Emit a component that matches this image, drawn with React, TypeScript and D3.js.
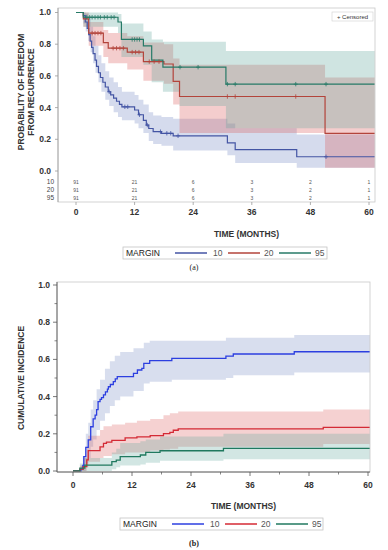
import * as d3 from 'd3'

// ---- panel (a): Kaplan-Meier freedom from recurrence ----
const groups = ['10', '20', '95']
const kmEnd = 61.2
const km10: [number, number][] = [
  [0, 1], [1.5, 0.98], [1.9, 0.94], [2.3, 0.9], [2.6, 0.86], [2.9, 0.82], [3.2, 0.78],
  [3.5, 0.74], [3.9, 0.7], [4.2, 0.66], [4.6, 0.62], [5.0, 0.59], [5.5, 0.56], [6.0, 0.53],
  [6.6, 0.5], [7.1, 0.48], [7.7, 0.46], [8.3, 0.44], [8.9, 0.42], [9.4, 0.405], [12.0, 0.385],
  [12.8, 0.355], [13.8, 0.32], [14.4, 0.29], [14.9, 0.268], [15.8, 0.248], [17.5, 0.238],
  [19.9, 0.222], [31.0, 0.178], [32.6, 0.135], [45.2, 0.09]
]
const km20: [number, number][] = [
  [0, 1], [1.5, 0.96], [2.6, 0.87], [5.6, 0.81], [6.6, 0.775], [10.5, 0.75], [13.8, 0.69],
  [18, 0.675], [19.9, 0.565], [21.2, 0.47], [51, 0.238]
]
const km95: [number, number][] = [
  [0, 1], [1.5, 0.97], [8.6, 0.94], [9.3, 0.83], [13.8, 0.79], [15.5, 0.7], [17.8, 0.655],
  [30.7, 0.548]
]
const kmBand10: [number, number, number][] = [
  [0, 1, 1], [1.5, 0.93, 1], [2.0, 0.88, 0.99], [2.5, 0.82, 0.96], [3.0, 0.75, 0.91],
  [3.5, 0.68, 0.85], [4.0, 0.62, 0.79], [4.6, 0.56, 0.73], [5.2, 0.5, 0.68], [6.0, 0.45, 0.63],
  [6.8, 0.41, 0.59], [7.7, 0.37, 0.56], [8.6, 0.34, 0.53], [9.4, 0.32, 0.5], [12.0, 0.3, 0.48],
  [12.8, 0.27, 0.45], [13.8, 0.24, 0.42], [14.9, 0.19, 0.37], [15.8, 0.17, 0.35],
  [17.5, 0.16, 0.34], [19.9, 0.13, 0.33], [31.0, 0.1, 0.3], [32.6, 0.05, 0.27], [45.2, 0.02, 0.23]
]
const kmBand20: [number, number, number][] = [
  [0, 1, 1], [1.5, 0.91, 1], [2.6, 0.79, 0.94], [5.6, 0.72, 0.89], [6.6, 0.68, 0.87],
  [10.5, 0.64, 0.85], [13.8, 0.57, 0.81], [18, 0.55, 0.8], [19.9, 0.42, 0.71], [21.2, 0.24, 0.67],
  [51, 0.02, 0.59]
]
const kmBand95: [number, number, number][] = [
  [0, 1, 1], [1.5, 0.91, 1], [8.6, 0.87, 0.99], [9.3, 0.72, 0.93], [13.8, 0.67, 0.88],
  [15.5, 0.56, 0.83], [17.8, 0.5, 0.816], [21.2, 0.41, 0.816], [30.7, 0.27, 0.757]
]
const cens10 = [6.8, 10.0, 10.6, 13.0, 14.6, 17.3, 18.6, 19.4, 20.9, 51.2]
const cens20 = [3.3, 3.9, 4.5, 5.1, 7.6, 8.3, 9.0, 9.7, 11.5, 12.2, 12.9, 15.0, 16.0, 17.0, 31, 32.6, 45]
const cens95 = [2.2, 2.8, 3.3, 3.9, 4.5, 5.0, 5.8, 6.4, 7.2, 7.8, 11.5, 12.0, 12.5, 13.0, 21.3, 25, 31, 32.6, 45, 51.2]
const riskTimes = [0, 12, 24, 36, 48, 60]
const atRisk10 = [91, 21, 6, 3, 2, 1]
const atRisk20 = [91, 21, 6, 3, 2, 1]
const atRisk95 = [91, 21, 6, 3, 2, 1]

// ---- panel (b): cumulative incidence ----
const ciEnd = 60.4
const ci10: [number, number][] = [
  [0, 0], [1.6, 0.01], [2.0, 0.03], [2.2, 0.077], [2.6, 0.127], [3.1, 0.167], [3.6, 0.238],
  [4.1, 0.28], [4.5, 0.3], [4.8, 0.33], [5.1, 0.373], [5.5, 0.385], [5.8, 0.395], [6.2, 0.409],
  [6.6, 0.425], [7.0, 0.44], [7.2, 0.453], [7.6, 0.465], [8.2, 0.48], [8.6, 0.495], [9.0, 0.507],
  [12.3, 0.525], [13.1, 0.543], [14.0, 0.552], [14.4, 0.579], [15.6, 0.593], [20.1, 0.605],
  [31.1, 0.618], [32.6, 0.629], [45.0, 0.641]
]
const ci20: [number, number][] = [
  [0, 0], [1.4, 0.01], [2.1, 0.023], [2.8, 0.06], [3.1, 0.11], [5.5, 0.13], [6.2, 0.149],
  [6.8, 0.155], [7.9, 0.165], [10.6, 0.178], [13.0, 0.183], [15.7, 0.19], [18.4, 0.201],
  [19.7, 0.208], [20.4, 0.219], [21.4, 0.227], [50.9, 0.235]
]
const ci95: [number, number][] = [
  [0, 0], [1.4, 0.015], [2.4, 0.032], [7.9, 0.05], [8.8, 0.059], [9.6, 0.077], [13.7, 0.086],
  [14.8, 0.1], [17.7, 0.109], [30.6, 0.122]
]
const ciBand10: [number, number, number][] = [
  [0, 0, 0], [1.6, 0, 0.03], [2.0, 0, 0.08], [2.6, 0.04, 0.2], [3.1, 0.07, 0.26], [3.6, 0.13, 0.33],
  [4.1, 0.17, 0.38], [4.8, 0.22, 0.44], [5.5, 0.27, 0.49], [6.5, 0.31, 0.55], [7.5, 0.35, 0.59],
  [8.5, 0.38, 0.62], [9.6, 0.4, 0.64], [12.3, 0.43, 0.66], [14.4, 0.47, 0.69], [15.6, 0.48, 0.7],
  [20.1, 0.49, 0.7], [31.1, 0.5, 0.716], [32.6, 0.515, 0.716], [45.0, 0.53, 0.731]
]
const ciBand20: [number, number, number][] = [
  [0, 0, 0], [1.4, 0, 0.03], [2.1, 0, 0.07], [2.8, 0.02, 0.13], [3.1, 0.05, 0.19], [5.5, 0.07, 0.22],
  [6.2, 0.08, 0.24], [7.9, 0.09, 0.25], [10.6, 0.1, 0.26], [13.0, 0.1, 0.27], [15.7, 0.11, 0.28],
  [18.4, 0.115, 0.3], [19.7, 0.12, 0.31], [21.4, 0.13, 0.32], [50.9, 0.145, 0.33]
]
const ciBand95: [number, number, number][] = [
  [0, 0, 0], [1.4, 0, 0.04], [2.4, 0, 0.07], [7.9, 0.01, 0.1], [8.8, 0.02, 0.12], [9.6, 0.03, 0.15],
  [13.7, 0.035, 0.16], [14.8, 0.045, 0.17], [17.7, 0.055, 0.185], [30.6, 0.063, 0.2]
]

const xTicks = [0, 12, 24, 36, 48, 60]
const yTicks = [0, 0.2, 0.4, 0.6, 0.8, 1.0]

const kmLine = ['#4455a4', '#b3443b', '#277a67']
const ciLine = ['#2c3fe0', '#d42a35', '#20795f']
const bandFill = ['#7488c2', '#dc5a58', '#5fa59b']

const FONT = '"Liberation Sans", Arial, sans-serif'

function extend<T extends number[]>(d: T[], end: number): T[] {
  const last = d[d.length - 1].slice() as T
  last[0] = end
  return [...d, last]
}

function stepAt(d: [number, number][], t: number) {
  let v = d[0][1]
  for (const p of d) if (p[0] <= t) v = p[1]
  return v
}

function Legend({ x, y, w, colors }: { x: number; y: number; w: number; colors: string[] }) {
  const h = 12
  const items = [
    { lx: 52, tx: 90 },
    { lx: 105, tx: 141 },
    { lx: 156, tx: 192 }
  ]
  return (
    <g transform={`translate(${x},${y})`}>
      <rect x={0} y={0} width={w} height={h} fill="#fff" stroke="#c4c4c4" strokeWidth={0.8} />
      <text x={3} y={h / 2} dy="0.35em" fontSize={8.5} fill="#222" fontFamily={FONT}>MARGIN</text>
      {items.map((it, i) => (
        <g key={i}>
          <line x1={it.lx} x2={it.lx + 32} y1={h / 2} y2={h / 2} stroke={colors[i]} strokeWidth={1.5} />
          <text x={it.tx} y={h / 2} dy="0.35em" fontSize={8.5} fill="#555" fontFamily={FONT}>{groups[i]}</text>
        </g>
      ))}
    </g>
  )
}

export default function App() {
  const xT = d3.scaleLinear().domain([0, 60]).range([76, 369])
  const yT = d3.scaleLinear().domain([0, 1]).range([171, 12.5])
  const xB = d3.scaleLinear().domain([0, 60]).range([73, 368])
  const yB = d3.scaleLinear().domain([0, 1]).range([471, 285])

  const lineT = d3.line<[number, number]>().x(d => xT(d[0])).y(d => yT(d[1])).curve(d3.curveStepAfter)
  const areaT = d3.area<[number, number, number]>().x(d => xT(d[0])).y0(d => yT(d[1])).y1(d => yT(d[2])).curve(d3.curveStepAfter)
  const lineB = d3.line<[number, number]>().x(d => xB(d[0])).y(d => yB(d[1])).curve(d3.curveStepAfter)
  const areaB = d3.area<[number, number, number]>().x(d => xB(d[0])).y0(d => yB(d[1])).y1(d => yB(d[2])).curve(d3.curveStepAfter)

  const kmSeries = [km10, km20, km95]
  const kmBands = [kmBand10, kmBand20, kmBand95]
  const censors = [cens10, cens20, cens95]
  const riskRows = [atRisk10, atRisk20, atRisk95]
  const ciSeries = [ci10, ci20, ci95]
  const ciBands = [ciBand10, ciBand20, ciBand95]

  const tFrame = { l: 58, r: 375, t: 8, b: 202 }
  const bFrame = { l: 57, r: 370, t: 282, b: 472 }
  const riskY = [182, 190, 198]
  const minorY = d3.range(0.1, 1, 0.2)
  const minorX = d3.range(6, 60, 12)

  return (
    <svg width={388} height={550} style={{ position: 'absolute', left: 0, top: 0 }} fontFamily={FONT}>
      <rect width={388} height={550} fill="#fff" />

      {/* ---------- panel (a) ---------- */}
      {kmBands.map((b, i) => (
        <path key={i} d={areaT(extend(b, kmEnd)) || ''} fill={bandFill[i]} fillOpacity={0.3} />
      ))}
      {kmSeries.map((s, i) => (
        <path key={i} d={lineT(extend(s, kmEnd)) || ''} fill="none" stroke={kmLine[i]} strokeWidth={1.2} />
      ))}
      {censors.map((c, i) => (
        <g key={i} stroke={kmLine[i]} strokeWidth={0.8}>
          {c.map((t, j) => {
            const cx = xT(t)
            const cy = yT(stepAt(kmSeries[i], t))
            return <path key={j} d={`M${cx - 2},${cy}H${cx + 2}M${cx},${cy - 2.2}V${cy + 2.2}`} />
          })}
        </g>
      ))}
      <rect x={tFrame.l} y={tFrame.t} width={tFrame.r - tFrame.l} height={tFrame.b - tFrame.t}
        fill="none" stroke="#c8c8c8" strokeWidth={0.8} />
      <line x1={tFrame.l} x2={tFrame.l} y1={tFrame.t} y2={tFrame.b} stroke="#9a9a9a" strokeWidth={0.8} />
      {yTicks.map(v => (
        <g key={v}>
          <line x1={tFrame.l - 3} x2={tFrame.l} y1={yT(v)} y2={yT(v)} stroke="#9a9a9a" strokeWidth={0.8} />
          <text x={tFrame.l - 7} y={yT(v)} dy="0.35em" textAnchor="end" fontSize={8.5} fontWeight="bold" fill="#333">
            {v.toFixed(1)}
          </text>
        </g>
      ))}
      {xTicks.map(t => (
        <g key={t}>
          <line x1={xT(t)} x2={xT(t)} y1={tFrame.b} y2={tFrame.b + 3} stroke="#9a9a9a" strokeWidth={0.8} />
          <text x={xT(t)} y={212} dy="0.35em" textAnchor="middle" fontSize={8.5} fontWeight="bold" fill="#333">{t}</text>
        </g>
      ))}
      {/* risk table */}
      {riskRows.map((row, i) => (
        <g key={i}>
          <text x={54} y={riskY[i]} dy="0.35em" textAnchor="end" fontSize={6.5} fill="#444">{groups[i]}</text>
          {row.map((n, j) => (
            <text key={j} x={xT(riskTimes[j])} y={riskY[i]} dy="0.35em" textAnchor="middle" fontSize={5} fill="#555">{n}</text>
          ))}
        </g>
      ))}
      {/* censored legend */}
      <rect x={332} y={12} width={41} height={9} fill="#fff" stroke="#d0d0d0" strokeWidth={0.6} />
      <text x={352.5} y={16.5} dy="0.35em" textAnchor="middle" fontSize={6} fill="#333">+ Censored</text>
      <text transform="translate(24,92) rotate(-90)" textAnchor="middle" fontSize={8.5} fontWeight="bold" fill="#333">
        PROBABILITY OF FREEDOM
      </text>
      <text transform="translate(34,92) rotate(-90)" textAnchor="middle" fontSize={8.5} fontWeight="bold" fill="#333">
        FROM RECURRENCE
      </text>
      <text x={(tFrame.l + tFrame.r) / 2 + 30} y={234} dy="0.35em" textAnchor="middle" fontSize={8.5} fontWeight="bold" fill="#333">
        TIME (MONTHS)
      </text>
      <Legend x={123} y={247} w={204} colors={kmLine} />
      <text x={194} y={267} dy="0.35em" textAnchor="middle" fontSize={8} fontFamily="'Liberation Serif', serif" fill="#222">(a)</text>

      {/* ---------- panel (b) ---------- */}
      {ciBands.map((b, i) => (
        <path key={i} d={areaB(extend(b, ciEnd)) || ''} fill={bandFill[i]} fillOpacity={0.28} />
      ))}
      {ciSeries.map((s, i) => (
        <path key={i} d={lineB(extend(s, ciEnd)) || ''} fill="none" stroke={ciLine[i]} strokeWidth={1.3} />
      ))}
      <rect x={bFrame.l} y={bFrame.t} width={bFrame.r - bFrame.l} height={bFrame.b - bFrame.t}
        fill="none" stroke="#c8c8c8" strokeWidth={0.8} />
      <line x1={bFrame.l} x2={bFrame.l} y1={bFrame.t} y2={bFrame.b} stroke="#555" strokeWidth={0.9} />
      <line x1={bFrame.l} x2={bFrame.r} y1={bFrame.b} y2={bFrame.b} stroke="#555" strokeWidth={0.9} />
      {yTicks.map(v => (
        <g key={v}>
          <line x1={bFrame.l - 4} x2={bFrame.l} y1={yB(v)} y2={yB(v)} stroke="#555" strokeWidth={0.8} />
          <text x={bFrame.l - 7} y={yB(v)} dy="0.35em" textAnchor="end" fontSize={8.5} fontWeight="bold" fill="#333">
            {v.toFixed(1)}
          </text>
        </g>
      ))}
      {minorY.map(v => (
        <line key={v} x1={bFrame.l - 2.5} x2={bFrame.l} y1={yB(v)} y2={yB(v)} stroke="#555" strokeWidth={0.7} />
      ))}
      {xTicks.map(t => (
        <g key={t}>
          <line x1={xB(t)} x2={xB(t)} y1={bFrame.b} y2={bFrame.b + 4} stroke="#555" strokeWidth={0.8} />
          <text x={xB(t)} y={485} dy="0.35em" textAnchor="middle" fontSize={8.5} fontWeight="bold" fill="#333">{t}</text>
        </g>
      ))}
      {minorX.map(t => (
        <line key={t} x1={xB(t)} x2={xB(t)} y1={bFrame.b} y2={bFrame.b + 2.5} stroke="#555" strokeWidth={0.7} />
      ))}
      <text transform="translate(24,378) rotate(-90)" textAnchor="middle" fontSize={8.5} fontWeight="bold" fill="#333">
        CUMULATIVE INCIDENCE
      </text>
      <text x={(bFrame.l + bFrame.r) / 2 + 30} y={506} dy="0.35em" textAnchor="middle" fontSize={8.5} fontWeight="bold" fill="#333">
        TIME (MONTHS)
      </text>
      <Legend x={120} y={518} w={203} colors={ciLine} />
      <text x={194} y={543} dy="0.35em" textAnchor="middle" fontSize={8} fontWeight="bold" fontFamily="'Liberation Serif', serif" fill="#222">(b)</text>
    </svg>
  )
}
